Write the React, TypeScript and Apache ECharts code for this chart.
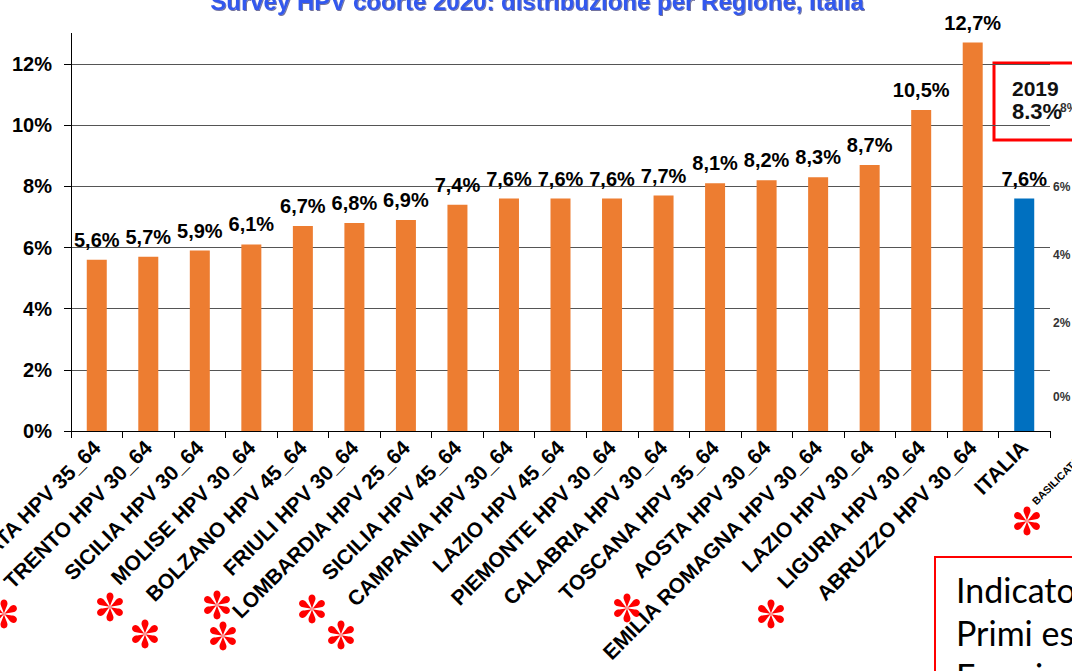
import React, { useEffect, useRef } from "react";
import * as echarts from "echarts";

const categories = [
  "BASILICATA HPV 35_64",
  "TRENTO HPV 30_64",
  "SICILIA HPV 30_64",
  "MOLISE HPV 30_64",
  "BOLZANO HPV 45_64",
  "FRIULI HPV 30_64",
  "LOMBARDIA HPV 25_64",
  "SICILIA HPV 45_64",
  "CAMPANIA HPV 30_64",
  "LAZIO HPV 45_64",
  "PIEMONTE HPV 30_64",
  "CALABRIA HPV 30_64",
  "TOSCANA HPV 35_64",
  "AOSTA HPV 30_64",
  "EMILIA ROMAGNA HPV 30_64",
  "LAZIO HPV 30_64",
  "LIGURIA HPV 30_64",
  "ABRUZZO HPV 30_64",
  "ITALIA",
];

const values = [5.6, 5.7, 5.9, 6.1, 6.7, 6.8, 6.9, 7.4, 7.6, 7.6, 7.6, 7.7, 8.1, 8.2, 8.3, 8.7, 10.5, 12.7, 7.6];

const titleText = "Survey HPV coorte 2020: distribuzione per Regione, Italia";
const box2019Lines = ["2019", "8.3%"];
const secondaryTickLabels = ["8%", "6%", "4%", "2%", "0%"];
const noteLines = ["Indicato", "Primi es", "Esami"];
const cutLabel = "BASILICATA HPV 35_64";

// asterisk annotation anchor points (pixel positions of the red marks)
const asteriskPositions: [number, number][] = [
  [4, 614], [110, 607], [145, 634], [217, 605], [223, 636],
  [312, 609], [341, 635], [627, 608], [771, 614], [1027, 521],
];

const FONT = 'Arial, "Liberation Sans", Helvetica, sans-serif';
const ORANGE = "#ED7D31";
const BLUE = "#0070C0";

function buildAsteriskPath(): string {
  const petal = [
    [0, 0], [-0.6, -3], [-2.6, -6.2], [-2.6, -7.8],
    [-2.6, -11.6], [2.6, -11.6], [2.6, -7.8],
    [2.6, -6.2], [0.6, -3], [0, 0],
  ];
  let d = "";
  for (let k = 0; k < 6; k++) {
    const a = (k * Math.PI) / 3;
    const c = Math.cos(a);
    const s = Math.sin(a);
    const p = petal.map(([x, y]) => `${(x * c - y * s).toFixed(3)},${(x * s + y * c).toFixed(3)}`);
    d += `M${p[0]} C${p[1]} ${p[2]} ${p[3]} C${p[4]} ${p[5]} ${p[6]} C${p[7]} ${p[8]} ${p[9]} Z `;
  }
  return d;
}

let registered = false;
function ensureShape() {
  if (registered) return;
  echarts.graphic.registerShape("asterisk", echarts.graphic.extendPath(buildAsteriskPath(), {}) as any);
  registered = true;
}

export default function App() {
  const ref = useRef<HTMLDivElement>(null);

  useEffect(() => {
    if (!ref.current) return;
    ensureShape();
    const chart = echarts.init(ref.current, undefined, { renderer: "svg" });

    const secondaryY = [108, 187, 255, 323, 397];

    const graphic: any[] = [
      {
        type: "line",
        shape: { x1: 71.5, y1: 33, x2: 71.5, y2: 64 },
        style: { stroke: "#000", lineWidth: 1 },
      },
      {
        type: "text",
        x: 537,
        y: 1,
        style: {
          text: titleText,
          fontSize: 24,
          fontWeight: "bold",
          fontFamily: FONT,
          fill: "#3358EE",
          align: "center",
          verticalAlign: "middle",
          textShadowColor: "rgba(0,0,80,0.55)",
          textShadowOffsetX: 1,
          textShadowOffsetY: 1,
          textShadowBlur: 1,
        },
      },
      {
        type: "rect",
        shape: { x: 994, y: 63, width: 110, height: 77 },
        style: { fill: "none", stroke: "#FF0000", lineWidth: 3 },
      },
      {
        type: "text",
        x: 1012,
        y: 88,
        style: { text: box2019Lines[0], fontSize: 21, fontWeight: "bold", fontFamily: FONT, fill: "#111", verticalAlign: "middle" },
      },
      {
        type: "text",
        x: 1012,
        y: 111,
        style: { text: box2019Lines[1], fontSize: 22, fontWeight: "bold", fontFamily: FONT, fill: "#111", verticalAlign: "middle" },
      },
      ...secondaryTickLabels.map((t, i) => ({
        type: "text",
        x: i === 0 ? 1060 : 1053,
        y: secondaryY[i],
        style: { text: t, fontSize: 12, fontWeight: "bold", fontFamily: FONT, fill: "#333", verticalAlign: "middle" },
      })),
      {
        type: "text",
        x: 1034,
        y: 503,
        rotation: Math.PI / 4,
        style: { text: cutLabel, fontSize: 10.5, fontWeight: "bold", fontFamily: FONT, fill: "#000", verticalAlign: "middle" },
      },
      {
        type: "rect",
        shape: { x: 935, y: 557, width: 160, height: 140 },
        style: { fill: "#fff", stroke: "#FF0000", lineWidth: 2 },
      },
      ...noteLines.map((t, i) => ({
        type: "text",
        x: 956,
        y: 589 + i * 43,
        style: { text: t, fontSize: 34, fontFamily: "Lato, Arial, sans-serif", fill: "#000", verticalAlign: "middle" },
      })),
      ...asteriskPositions.map(([x, y]) => ({
        type: "asterisk",
        x,
        y,
        scaleX: 1.35,
        scaleY: 1.35,
        style: { fill: "#FF0000", stroke: "none" },
      })),
    ];

    chart.setOption({
      animation: false,
      backgroundColor: "#fff",
      grid: { left: 71, right: 22, top: 64, bottom: 240, containLabel: false, outerBoundsMode: "none" },
      xAxis: {
        type: "category",
        data: categories,
        axisLine: { lineStyle: { color: "#000", width: 1 } },
        axisTick: { show: true, length: 7, lineStyle: { color: "#000" } },
        axisLabel: {
          interval: 0,
          rotate: 45,
          margin: 13,
          fontSize: 21,
          fontWeight: "bold",
          color: "#000",
          fontFamily: FONT,
        },
      },
      yAxis: {
        type: "value",
        min: 0,
        max: 12,
        interval: 2,
        axisLine: { show: true, lineStyle: { color: "#000" } },
        axisTick: { show: true, length: 7, lineStyle: { color: "#000" } },
        axisLabel: {
          formatter: "{value}%",
          fontSize: 20,
          fontWeight: "bold",
          color: "#000",
          margin: 19,
          fontFamily: FONT,
        },
        splitLine: { lineStyle: { color: "#555", width: 1 } },
      },
      series: [
        {
          type: "bar",
          barWidth: 20,
          clip: false,
          data: values.map((v, i) => ({
            value: v,
            itemStyle: { color: categories[i] === "ITALIA" ? BLUE : ORANGE },
          })),
          label: {
            show: true,
            position: "top",
            distance: 10,
            fontSize: 20,
            fontWeight: "bold",
            color: "#000",
            fontFamily: FONT,
            formatter: (p: any) => `${Number(p.value).toFixed(1).replace(".", ",")}%`,
          },
        },
      ],
      graphic,
    });

    return () => chart.dispose();
  }, []);

  return (
    <div
      ref={ref}
      style={{ position: "fixed", left: 0, top: 0, width: 1072, height: 671 }}
    />
  );
}
